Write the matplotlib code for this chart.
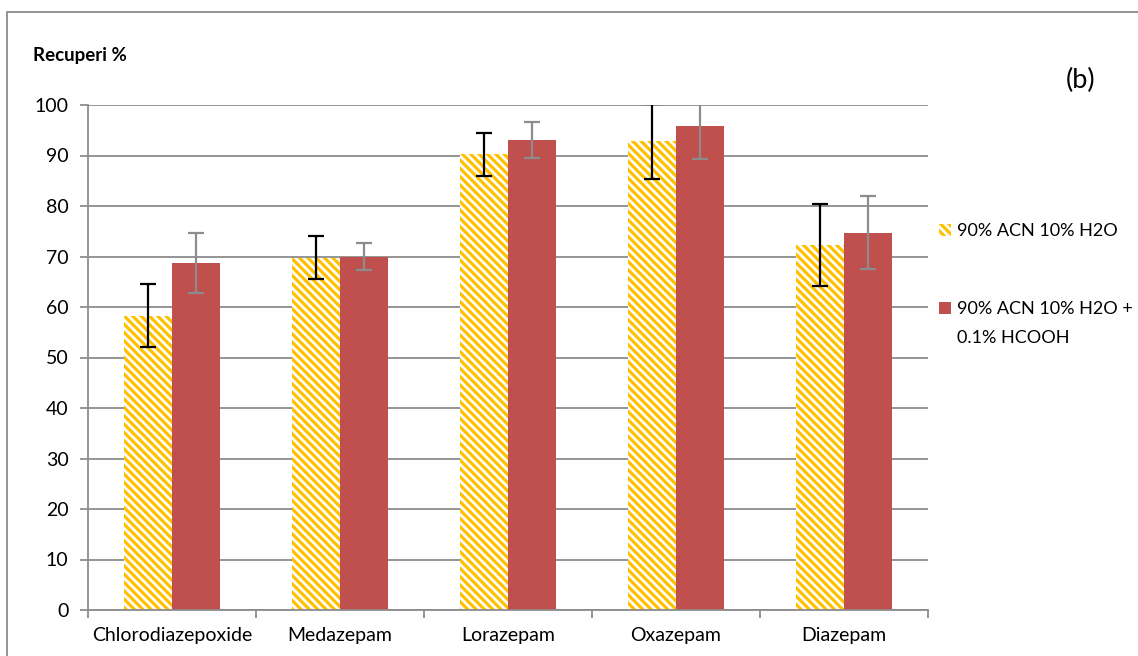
import matplotlib
matplotlib.use("Agg")
import matplotlib.pyplot as plt
import numpy as np
from matplotlib.patches import Rectangle

categories = ["Chlorodiazepoxide", "Medazepam", "Lorazepam", "Oxazepam", "Diazepam"]
series_names = ["90% ACN 10% H2O", "90% ACN 10% H2O +\n0.1% HCOOH"]
vals_a = [58.3, 69.8, 90.2, 92.8, 72.3]
err_a = [6.2, 4.3, 4.2, 7.4, 8.1]
vals_b = [68.7, 70.0, 93.1, 95.8, 74.7]
err_b = [5.9, 2.6, 3.5, 6.4, 7.2]
yticks = list(range(0, 101, 10))

plt.rcParams['font.family'] = ['Lato', 'DejaVu Sans']
plt.rcParams['hatch.linewidth'] = 2.3
plt.rcParams['hatch.color'] = '#FFC000'

W, H = 1138, 656
fig = plt.figure(figsize=(W/100, H/100), dpi=100)
ax = fig.add_axes([88/W, 1-610/H, (928-88)/W, (610-105)/H])

x = np.arange(len(categories))
bw = 0.286
first_lines = [s.split("\n")[0] for s in series_names]
ax.bar(x - bw/2, vals_a, bw, color='white', edgecolor='#FFC000', hatch='\\' * 4, linewidth=0, zorder=2, label=first_lines[0])
ax.bar(x + bw/2, vals_b, bw, color='#C0504D', linewidth=0, zorder=2, label=first_lines[1])
ax.errorbar(x - bw/2, vals_a, yerr=err_a, fmt='none', ecolor='black', elinewidth=1.6, capsize=6, capthick=1.6, zorder=3)
ax.errorbar(x + bw/2, vals_b, yerr=err_b, fmt='none', ecolor='#8C8C8C', elinewidth=1.6, capsize=6, capthick=1.6, zorder=3)

ax.set_xlim(-0.5, len(categories)-0.5)
ax.set_ylim(0, 100)
ax.set_yticks(yticks)
ax.yaxis.grid(True, color='#8C8C8C', linewidth=1.3, zorder=0)
ax.set_axisbelow(True)
for s in ['top', 'right']:
    ax.spines[s].set_visible(False)
for s in ['left', 'bottom']:
    ax.spines[s].set_color('#8C8C8C')
    ax.spines[s].set_linewidth(1.3)
ax.set_xticks(x)
ax.set_xticklabels(categories)
ax.set_xticks(np.arange(-0.5, len(categories), 1.0), minor=True)
ax.tick_params(axis='x', which='major', length=0, pad=12, labelsize=14)
ax.tick_params(axis='x', which='minor', length=6, color='#8C8C8C', width=1.3)
ax.tick_params(axis='y', length=6, color='#8C8C8C', width=1.3, labelsize=14, pad=8)

leg = fig.legend(loc='upper left', bbox_to_anchor=(939/W, 1-223/H), frameon=False,
                 fontsize=13, handlelength=0.65, handleheight=0.65, handletextpad=0.35,
                 labelspacing=3.45, borderaxespad=0, borderpad=0)

# continuation line of the wrapped second legend label
fig.canvas.draw()
t2 = leg.get_texts()[1]
bb = t2.get_window_extent()
fig.text(bb.x0 / W, (bb.y0 - 29 + bb.height / 2) / H, series_names[1].split("\n")[1],
         fontsize=13, va='center', ha='left')

fig.text(33/W, 1-55/H, "Recuperi %", fontsize=13.5, fontweight='bold', va='center', ha='left')
fig.text(1081/W, 1-80/H, "(b)", fontsize=19.5, va='center', ha='center')

fig.add_artist(Rectangle((7/W, -0.1), 1.2, 1.1-12/H, transform=fig.transFigure,
                         fill=False, edgecolor='#8C8C8C', linewidth=1.3))

fig.savefig("out.png", dpi=100)
